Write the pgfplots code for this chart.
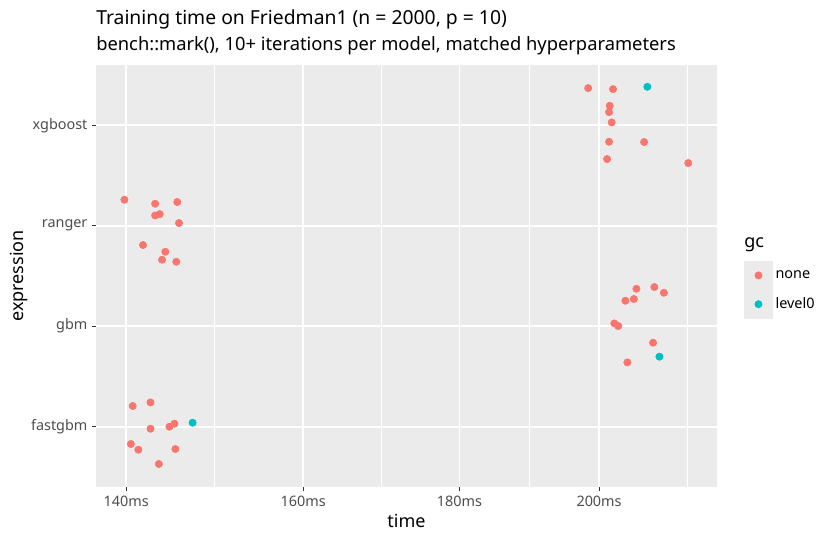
\documentclass[border=0pt]{standalone}
\usepackage{fontspec}
\setmainfont{Noto Sans}
\usepackage{pgfplots}
\pgfplotsset{compat=1.18}

\definecolor{panel}{HTML}{EBEBEB}
\definecolor{gcnone}{HTML}{F8766D}
\definecolor{gclevel}{HTML}{00BFC4}
\definecolor{ticktext}{HTML}{4D4D4D}
\definecolor{tickline}{HTML}{333333}

% 1px of the reference = 0.75pt; axis origin = panel lower left (96,487)
\begin{document}
\begin{tikzpicture}
\path[use as bounding box] (-72pt,-39.75pt) rectangle (558pt,365.25pt);
\begin{axis}[
    scale only axis,
    width=465.75pt, height=316.5pt,
    xmode=log,
    xmin=136.87, xmax=218.6,
    ymin=0.4, ymax=4.6,
    axis background/.style={fill=panel},
    axis line style={draw=none},
    xtick={140,160,180,200},
    xticklabels={140ms,160ms,180ms,200ms},
    minor xtick={149.666,169.706,189.737,213.8},
    ytick={1,2,3,4},
    yticklabels={fastgbm,gbm,ranger,xgboost},
    grid=both,
    major grid style={white, line width=1.3pt},
    minor grid style={white, line width=0.65pt},
    tick pos=left,
    tick align=outside,
    major tick length=3pt,
    minor tick length=0pt,
    tick style={tickline, line width=0.8pt},
    ticklabel style={font=\fontsize{10.8}{12}\selectfont, text=ticktext},
    legend style={at={(1.04348,0.53555)}, anchor=north west,
        draw=none, fill=none, inner sep=0pt, outer sep=0pt,
        row sep=0pt, font=\fontsize{10.8}{12}\selectfont,
        cells={anchor=west, inner sep=0pt},
        /tikz/every even column/.append style={column sep=6.75pt}},
    legend image code/.code={
        \fill[panel] (0pt,-10.6pt) rectangle (21.2pt,10.6pt);
        \draw[#1] plot coordinates {(10.6pt,0pt)};
    },
]
% gc = none
\addplot[only marks, mark=*, mark size=2.75pt, color=gcnone] coordinates {
    % ranger
    (139.82,3.259) (143.1,3.219) (145.5,3.236) (143.1,3.102) (143.6,3.116)
    (145.7,3.027) (141.8,2.808) (144.2,2.741) (143.85,2.662) (145.4,2.642)
    % fastgbm
    (140.7,1.206) (142.6,1.242) (145.2,1.030) (144.65,1.000) (142.6,0.980)
    (140.5,0.828) (141.3,0.771) (145.3,0.778) (143.5,0.629)
    % xgboost
    (198.4,4.370) (202.1,4.360) (201.6,4.194) (201.5,4.131) (201.9,4.028)
    (201.5,3.836) (206.9,3.833) (201.2,3.664) (213.9,3.624)
    % gbm
    (205.7,2.373) (208.5,2.390) (210.0,2.333) (204.0,2.254) (205.3,2.271)
    (202.3,2.028) (202.9,2.002) (208.3,1.836) (204.3,1.640)
};
\addlegendentry{none}
% gc = level0
\addplot[only marks, mark=*, mark size=2.75pt, color=gclevel] coordinates {
    (147.2,1.040) (207.4,4.383) (209.3,1.697)
};
\addlegendentry{level0}
\end{axis}

\node[anchor=base west, inner sep=0pt, font=\fontsize{14.5}{17}\selectfont]
    at (0pt,346.5pt) {Training time on Friedman1 (n = 2000, p = 10)};
\node[anchor=base west, inner sep=0pt, font=\fontsize{13.75}{16}\selectfont]
    at (0pt,327.2pt) {bench::mark(), 10+ iterations per model, matched hyperparameters};
\node[anchor=base, inner sep=0pt, font=\fontsize{13.5}{16}\selectfont]
    at (232.9pt,-30pt) {time};
\node[anchor=base, rotate=90, inner sep=0pt, font=\fontsize{13.5}{16}\selectfont]
    at (-54pt,158.25pt) {expression};
\node[anchor=base west, inner sep=0pt, font=\fontsize{13.5}{16}\selectfont]
    at (486pt,179.25pt) {gc};
\end{tikzpicture}
\end{document}
